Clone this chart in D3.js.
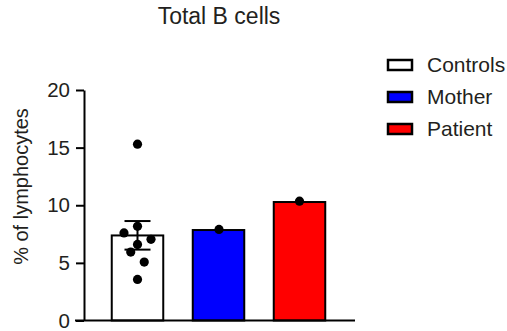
<!DOCTYPE html>
<html>
<head>
<meta charset="utf-8">
<script src="https://cdn.jsdelivr.net/npm/d3@7"></script>
<style>
  html, body { margin: 0; padding: 0; background: #fff; }
  svg { display: block; font-family: Arial, "Liberation Sans", Helvetica, sans-serif; }
</style>
</head>
<body>
<svg id="chart" width="507" height="331"></svg>
<script>
const title = "Total B cells";
const yLabel = "% of lymphocytes";
const categories = ["Controls", "Mother", "Patient"];
const barValues = [7.38, 7.85, 10.28];
const barColors = ["#ffffff", "#0000ff", "#ff0000"];
const errLow = [6.15];
const errHigh = [8.63];
const controlPoints = [15.3, 7.6, 8.17, 7.04, 6.6, 5.94, 5.07, 3.56];
const controlOffsets = [0, -1, 0, 1, 0, -0.5, 0.5, 0];
const motherPoints = [7.9];
const patientPoints = [10.35];
const yTicks = [0, 5, 10, 15, 20];

const svg = d3.select("#chart");
const y = d3.scaleLinear().domain([0, 20]).range([320.5, 90]);
const x = d3.scalePoint().domain(categories).range([137.5, 299.5]);
const barW = 51.5;
const ink = "#000";
const txt = "#231f20";
const ff = "Arial, 'Liberation Sans', sans-serif";

// bars
svg.selectAll("rect.bar").data(categories).enter().append("rect")
  .attr("class", "bar")
  .attr("x", d => x(d) - barW / 2)
  .attr("y", (d, i) => y(barValues[i]))
  .attr("width", barW)
  .attr("height", (d, i) => y(0) - y(barValues[i]))
  .attr("fill", (d, i) => barColors[i])
  .attr("stroke", ink).attr("stroke-width", 2);

// error bar for controls
const cx0 = x("Controls");
const capW = 26;
svg.append("line").attr("x1", cx0).attr("x2", cx0)
  .attr("y1", y(errHigh[0])).attr("y2", y(errLow[0]))
  .attr("stroke", ink).attr("stroke-width", 2);
[errHigh[0], errLow[0]].forEach(v => {
  svg.append("line").attr("x1", cx0 - capW / 2).attr("x2", cx0 + capW / 2)
    .attr("y1", y(v)).attr("y2", y(v))
    .attr("stroke", ink).attr("stroke-width", 2);
});

// points
const r = 4.6;
const offStep = 13.5;
svg.selectAll("circle.c").data(controlPoints).enter().append("circle")
  .attr("cx", (d, i) => cx0 + controlOffsets[i] * offStep)
  .attr("cy", d => y(d)).attr("r", r).attr("fill", ink);
svg.selectAll("circle.m").data(motherPoints).enter().append("circle")
  .attr("cx", x("Mother") + 0.5).attr("cy", d => y(d)).attr("r", r).attr("fill", ink);
svg.selectAll("circle.p").data(patientPoints).enter().append("circle")
  .attr("cx", x("Patient")).attr("cy", d => y(d)).attr("r", r).attr("fill", ink);

// y axis
const yAxis = svg.append("g").attr("transform", "translate(84,0)")
  .call(d3.axisLeft(y).tickValues(yTicks).tickSize(8).tickSizeOuter(0).tickPadding(6));
yAxis.select(".domain").attr("stroke", ink).attr("stroke-width", 2);
yAxis.selectAll(".tick line").attr("stroke", ink).attr("stroke-width", 2);
yAxis.selectAll(".tick text").attr("font-size", 20.5).attr("fill", txt)
  .attr("font-family", ff);

// x axis line
svg.append("line").attr("x1", 75).attr("x2", 355)
  .attr("y1", y(0)).attr("y2", y(0)).attr("stroke", ink).attr("stroke-width", 2);

// title
svg.append("text").attr("x", 219).attr("y", 24).attr("text-anchor", "middle")
  .attr("font-family", ff).attr("font-size", 23).attr("fill", txt).text(title);

// y label
svg.append("text").attr("transform", "translate(28,186.5) rotate(-90)")
  .attr("text-anchor", "middle").attr("font-family", ff).attr("font-size", 20)
  .attr("fill", txt).text(yLabel);

// legend
const lg = svg.append("g");
categories.forEach((c, i) => {
  const cy = 65 + i * 32;
  lg.append("rect").attr("x", 388).attr("y", cy - 5).attr("width", 24).attr("height", 10)
    .attr("fill", barColors[i]).attr("stroke", ink).attr("stroke-width", 2.5);
  lg.append("text").attr("x", 427).attr("y", cy + 7).attr("font-family", ff).attr("font-size", 21)
    .attr("fill", txt).text(c);
});
</script>
</body>
</html>
